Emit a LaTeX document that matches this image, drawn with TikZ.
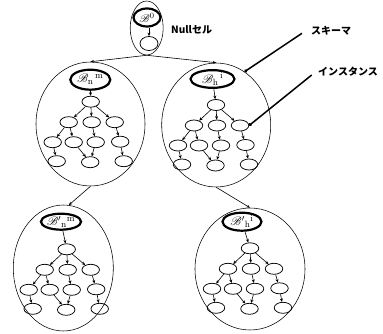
\documentclass[tikz,border=0pt]{standalone}
\usepackage{fontspec}
\usepackage{mathrsfs}
\newfontfamily\jp{Noto Sans CJK JP}
\usetikzlibrary{arrows.meta,shapes.geometric}
\tikzset{
 cellbox/.style={draw, ellipse, line width=0.55pt, inner sep=0pt},
 inst/.style={draw, ellipse, line width=0.75pt, minimum width=17.5pt, minimum height=11pt, inner sep=0pt},
 schema/.style={draw, ellipse, line width=2.2pt, inner sep=0pt, font=\fontsize{13}{15}\selectfont},
 link/.style={line width=0.6pt, -{Stealth[length=3.5pt,width=3pt]}},
 note/.style={line width=1.5pt, {Circle[length=3pt]}-},
 lbl/.style={font=\jp\bfseries\fontsize{10}{12}\selectfont, anchor=west, inner sep=0pt},
}
\newcommand\insttree[3]{%
 \node[inst] (#1r) at (#2,#3) {};
 \node[inst] (#1a1) at (#2-22,#3+20.5) {};
 \node[inst] (#1a2) at (#2+1,#3+20.5) {};
 \node[inst] (#1a3) at (#2+24,#3+20.5) {};
 \node[inst] (#1b1) at (#2-38,#3+40.5) {};
 \node[inst] (#1b2) at (#2-17,#3+40.5) {};
 \node[inst] (#1b3) at (#2+5,#3+40.5) {};
 \node[inst] (#1b4) at (#2+29.5,#3+40) {};
 \node[inst] (#1c1) at (#2-34,#3+59.5) {};
 \node[inst] (#1c2) at (#2-0.5,#3+60.5) {};
 \node[inst] (#1c3) at (#2+33,#3+59.5) {};
 \draw[link] (#1r) -- (#1a1);
 \draw[link] (#1r) -- (#1a2);
 \draw[link] (#1r) -- (#1a3);
 \draw[link] (#1a1) -- (#1b1);
 \draw[link] (#1a1) -- (#1b2);
 \draw[link] (#1a2) -- (#1b3);
 \draw[link] (#1a3) -- (#1b4);
 \draw[link] (#1b1) -- (#1c1);
 \draw[link] (#1b2) -- (#1c2);
 \draw[link] (#1b3) -- (#1c2);
 \draw[link] (#1b4) -- (#1c3);
}
\begin{document}
\begin{tikzpicture}[x=1pt,y=-1pt]
\useasboundingbox[fill=white] (0,0) rectangle (383,334);
% null cell
\node[cellbox, minimum width=33pt, minimum height=54pt] (null) at (146.7,28) {};
\node[schema, minimum width=27pt, minimum height=18pt, font=\fontsize{11}{13}\selectfont] (B0) at (147,17.5) {$\mathscr{B}^0$};
\node[inst, minimum width=18pt, minimum height=14pt] (n0) at (149,43.5) {};
\draw[link] (B0.south -| n0.north) -- (n0.north);
\node[lbl] (nulllbl) at (171,30) {Nullセル};
% top-left cell
\node[cellbox, minimum width=109pt, minimum height=124pt] (TL) at (90.5,124) {};
\node[schema, minimum width=40pt, minimum height=20pt] (TLs) at (90.3,79.7) {${\mathscr B}_{\mathrm n}{}^{\,\mathrm m}$};
\insttree{TL}{90.7}{101.7}
\draw[link] (TLs) -- (TLr);
% top-right cell
\node[cellbox, minimum width=109pt, minimum height=124pt] (TR) at (216.2,125) {};
\node[schema, minimum width=44pt, minimum height=17pt] (TRs) at (212.5,79) {${\mathscr B}_{\mathrm h}{}^{\,\mathrm i}$};
\insttree{TR}{216}{105}
\draw[link] (TRs) -- (TRr);
% bottom-left cell
\node[cellbox, minimum width=100pt, minimum height=126pt] (BL) at (63.3,268) {};
\node[schema, minimum width=33pt, minimum height=16pt] (BLs) at (61,221.7) {${\mathscr B}'{}_{\mathrm n}{}^{\mathrm m}$};
\insttree{BL}{66.7}{249.3}
\draw[link] (BLs) -- (BLr);
% bottom-right cell
\node[cellbox, minimum width=110pt, minimum height=122pt] (BR) at (250,269) {};
\node[schema, minimum width=39pt, minimum height=18pt] (BRs) at (242,221.7) {${\mathscr B}'{}_{\mathrm h}{}^{\mathrm i}$};
\insttree{BR}{250}{248.3}
\draw[link] (BRs) -- (BRr);
% cell connectors
\draw[link] (null.south) -- (TL.north);
\draw[link] (null.south) -- (TR.north);
\draw[link] (TL.south) -- (BL.85);
\draw[link] (TR.south) -- (BR.north);
% annotations
\node[lbl] (sk) at (311,31) {スキーマ};
\node[lbl] (in) at (318,72) {インスタンス};
\coordinate (skp) at (302,33.3);
\coordinate (inp) at (311.7,75);
\draw[note] (TR.62) -- (skp);
\draw[note] (TRa3.east) -- (inp);
\end{tikzpicture}
\end{document}
